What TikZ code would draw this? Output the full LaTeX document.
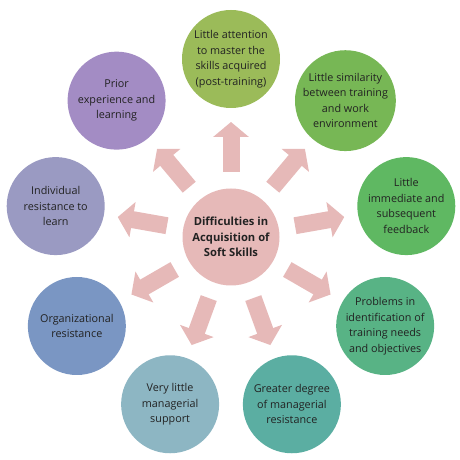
\documentclass[tikz,border=0pt]{standalone}
\usepackage{fontspec}
\setmainfont{Open Sans}
\usetikzlibrary{arrows.meta,calc}
\definecolor{txt}{HTML}{222222}
\definecolor{pinkc}{HTML}{E6B9B8}
\definecolor{cA}{HTML}{9BBB59}
\definecolor{cB}{HTML}{77B755}
\definecolor{cC}{HTML}{5FB862}
\definecolor{cD}{HTML}{58B385}
\definecolor{cE}{HTML}{5BAEA2}
\definecolor{cF}{HTML}{8DB6C3}
\definecolor{cG}{HTML}{7A96C3}
\definecolor{cH}{HTML}{9A9AC2}
\definecolor{cI}{HTML}{A38CC4}
\begin{document}
\begin{tikzpicture}[x=1pt,y=1pt,
  bubble/.style={circle, minimum size=98pt, inner sep=0pt, align=center,
    font=\fontsize{10.8}{15.5}\selectfont, text=txt},
  spoke/.style={draw=pinkc, line width=17pt,
    -{Triangle[width=35pt,length=15pt]}}]
\useasboundingbox (0,0) rectangle (460,460);
\node[bubble, fill=pinkc, minimum size=97pt,
  font=\fontsize{11.2}{15.5}\selectfont\bfseries] (C) at (231,223)
  {Difficulties in\\Acquisition of\\Soft Skills};
\node[bubble, fill=cA] (n1) at ($(C)+(90:178pt)$)
  {Little attention\\to master the\\skills acquired\\(post-training)};
\node[bubble, fill=cB] (n2) at ($(C)+(50:178pt)$)
  {Little similarity\\between training\\and work\\environment};
\node[bubble, fill=cC] (n3) at ($(C)+(10:178pt)$)
  {Little\\immediate and\\subsequent\\feedback};
\node[bubble, fill=cD] (n4) at ($(C)+(-30:178pt)$)
  {Problems in\\identification of\\training needs\\and objectives};
\node[bubble, fill=cE] (n5) at ($(C)+(-70:178pt)$)
  {Greater degree\\of managerial\\resistance};
\node[bubble, fill=cF] (n6) at ($(C)+(-110:178pt)$)
  {Very little\\managerial\\support};
\node[bubble, fill=cG] (n7) at ($(C)+(-150:178pt)$)
  {Organizational\\resistance};
\node[bubble, fill=cH] (n8) at ($(C)+(170:178pt)$)
  {Individual\\resistance to\\learn};
\node[bubble, fill=cI] (n9) at ($(C)+(130:178pt)$)
  {Prior\\experience and\\learning};
\foreach \n in {n1,n2,n3,n4,n5,n6,n7,n8,n9}
  \draw[spoke] ($(C)!65pt!(\n)$) -- ($(C)!115pt!(\n)$);
\end{tikzpicture}
\end{document}
